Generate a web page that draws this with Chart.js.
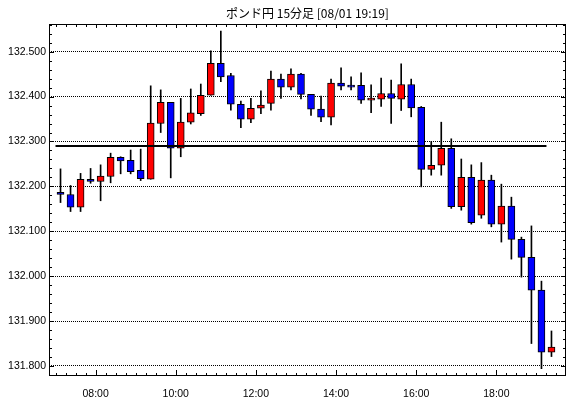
<!DOCTYPE html>
<html>
<head>
<meta charset="utf-8">
<script src="https://cdn.jsdelivr.net/npm/chart.js@4/dist/chart.umd.min.js"></script>
<style>
  html, body { margin: 0; padding: 0; background: #fff; }
  #wrap { width: 570px; height: 398px; }
</style>
</head>
<body>
<div id="wrap"><canvas id="priceChart"></canvas></div>
<script>
const times = ['07:00', '07:15', '07:30', '07:45', '08:00', '08:15', '08:30', '08:45', '09:00', '09:15',
    '09:30', '09:45', '10:00', '10:15', '10:30', '10:45', '11:00', '11:15', '11:30', '11:45',
    '12:00', '12:15', '12:30', '12:45', '13:00', '13:15', '13:30', '13:45', '14:00', '14:15',
    '14:30', '14:45', '15:00', '15:15', '15:30', '15:45', '16:00', '16:15', '16:30', '16:45',
    '17:00', '17:15', '17:30', '17:45', '18:00', '18:15', '18:30', '18:45', '19:00', '19:15']

const opens = [132.187, 132.182, 132.154, 132.216, 132.211, 132.222, 132.265, 132.258, 132.236, 132.216,
    132.340, 132.387, 132.285, 132.343, 132.362, 132.403, 132.474, 132.447, 132.383, 132.350,
    132.374, 132.385, 132.439, 132.421, 132.450, 132.405, 132.372, 132.354, 132.430, 132.422,
    132.425, 132.392, 132.394, 132.407, 132.394, 132.427, 132.376, 132.238, 132.247, 132.285,
    132.155, 132.220, 132.136, 132.214, 132.116, 132.156, 132.082, 132.042, 131.969, 131.831]
const highs = [132.239, 132.202, 132.229, 132.240, 132.248, 132.274, 132.266, 132.281, 132.283, 132.424,
    132.415, 132.387, 132.396, 132.417, 132.428, 132.502, 132.546, 132.452, 132.390, 132.396,
    132.413, 132.457, 132.450, 132.462, 132.452, 132.405, 132.401, 132.439, 132.464, 132.444,
    132.453, 132.426, 132.441, 132.437, 132.473, 132.439, 132.378, 132.300, 132.343, 132.306,
    132.261, 132.248, 132.253, 132.225, 132.205, 132.176, 132.087, 132.112, 131.989, 131.878]
const lows = [132.164, 132.144, 132.144, 132.207, 132.168, 132.208, 132.228, 132.228, 132.213, 132.216,
    132.320, 132.219, 132.266, 132.339, 132.358, 132.403, 132.433, 132.370, 132.331, 132.342,
    132.362, 132.370, 132.396, 132.415, 132.395, 132.358, 132.344, 132.337, 132.415, 132.415,
    132.385, 132.364, 132.378, 132.340, 132.369, 132.355, 132.199, 132.225, 132.225, 132.151,
    132.147, 132.116, 132.129, 132.110, 132.076, 132.038, 131.998, 131.850, 131.794, 131.821]
const closes = [132.182, 132.154, 132.216, 132.211, 132.223, 132.265, 132.257, 132.233, 132.217, 132.341,
    132.387, 132.285, 132.343, 132.364, 132.403, 132.474, 132.444, 132.383, 132.350, 132.374,
    132.381, 132.439, 132.421, 132.450, 132.405, 132.372, 132.354, 132.430, 132.423, 132.421,
    132.392, 132.392, 132.407, 132.396, 132.427, 132.375, 132.238, 132.247, 132.285, 132.155,
    132.220, 132.119, 132.214, 132.116, 132.156, 132.082, 132.042, 131.969, 131.831, 131.842]

const refLine = 132.290
const chartTitle = 'ポンド円 15分足 [08/01 19:19]'

// hours as numbers, candle drawn in the middle of its 15 minutes
const hours = times.map(t => Number(t.slice(0, 2)) + Number(t.slice(3)) / 60)
const mid = hours.map(h => h + 0.125)

const bodyColors = opens.map((o, i) => closes[i] >= o ? '#ff0000' : '#0000ff')

Chart.defaults.font.family = "'Liberation Sans', Arial, sans-serif"
Chart.defaults.color = '#000'

const frame = {
    id: 'frame',
    afterDraw(chart) {
        const { ctx, chartArea: a, scales: { x, y } } = chart
        ctx.save()
        ctx.strokeStyle = '#000'
        ctx.lineWidth = 1
        ctx.strokeRect(a.left + 0.5, a.top + 0.5, a.right - a.left - 1, a.bottom - a.top - 1)
        ctx.beginPath()
        for (let k = Math.ceil(y.min / 0.02); k <= Math.floor(y.max / 0.02); k++) {
            const py = Math.round(y.getPixelForValue(k * 0.02)) + 0.5
            const len = k % 5 === 0 ? 5 : 3
            ctx.moveTo(a.left, py); ctx.lineTo(a.left + len, py)
            ctx.moveTo(a.right, py); ctx.lineTo(a.right - len, py)
        }
        for (let k = Math.ceil(x.min * 4); k <= Math.floor(x.max * 4); k++) {
            const px = Math.round(x.getPixelForValue(k / 4)) + 0.5
            const len = k % 8 === 0 ? 6 : 3
            ctx.moveTo(px, a.bottom); ctx.lineTo(px, a.bottom - len)
            ctx.moveTo(px, a.top); ctx.lineTo(px, a.top + (k % 8 === 0 ? 4 : 3))
        }
        ctx.stroke()
        ctx.restore()
    }
}

const ctx = document.querySelector('#priceChart').getContext('2d')
const myChart = new Chart(ctx, {
    type: 'bar',
    data: {
        datasets: [
            {
                type: 'line',
                data: [{ x: hours[0], y: refLine }, { x: hours[hours.length - 1], y: refLine }],
                borderColor: '#000',
                borderWidth: 2,
                pointRadius: 0,
                order: 0
            },
            {
                data: mid.map((m, i) => ({ x: m, y: [opens[i], closes[i]] })),
                backgroundColor: bodyColors,
                borderColor: '#000',
                borderWidth: 1,
                borderSkipped: false,
                barThickness: 7,
                minBarLength: 2,
                grouped: false,
                order: 1
            },
            {
                data: mid.map((m, i) => ({ x: m, y: [lows[i], highs[i]] })),
                backgroundColor: '#000',
                borderWidth: 0,
                barThickness: 1,
                grouped: false,
                order: 2
            }
        ]
    },
    options: {
        responsive: true,
        maintainAspectRatio: false,
        animation: false,
        layout: { padding: { right: 4, left: 0, bottom: 0, top: 0 } },
        plugins: {
            legend: { display: false },
            tooltip: { enabled: false },
            title: {
                display: true,
                text: chartTitle,
                fullSize: false,
                color: '#000',
                font: { family: "'Noto Sans CJK JP', sans-serif", size: 12, weight: 'normal', lineHeight: 1.2 },
                padding: { top: 6, bottom: 3.6 }
            }
        },
        scales: {
            x: {
                type: 'linear',
                offset: false,
                min: 6.8375,
                max: 19.7375,
                afterFit: s => { s.height = 22 },
                border: { display: false },
                grid: { display: false, offset: false },
                ticks: {
                    stepSize: 2,
                    includeBounds: false,
                    autoSkip: false,
                    maxRotation: 0,
                    padding: 4,
                    font: { size: 10.5 },
                    callback: v => String(v).padStart(2, '0') + ':00'
                }
            },
            y: {
                min: 131.7777,
                max: 132.5617,
                afterFit: s => { s.width = 49 },
                border: { display: false, dash: [1, 1] },
                grid: { color: '#000', lineWidth: 1, drawTicks: false },
                ticks: {
                    stepSize: 0.1,
                    includeBounds: false,
                    autoSkip: false,
                    padding: 3,
                    font: { size: 10.5 },
                    callback: v => v.toFixed(3)
                }
            }
        }
    },
    plugins: [frame]
})
</script>
</body>
</html>
